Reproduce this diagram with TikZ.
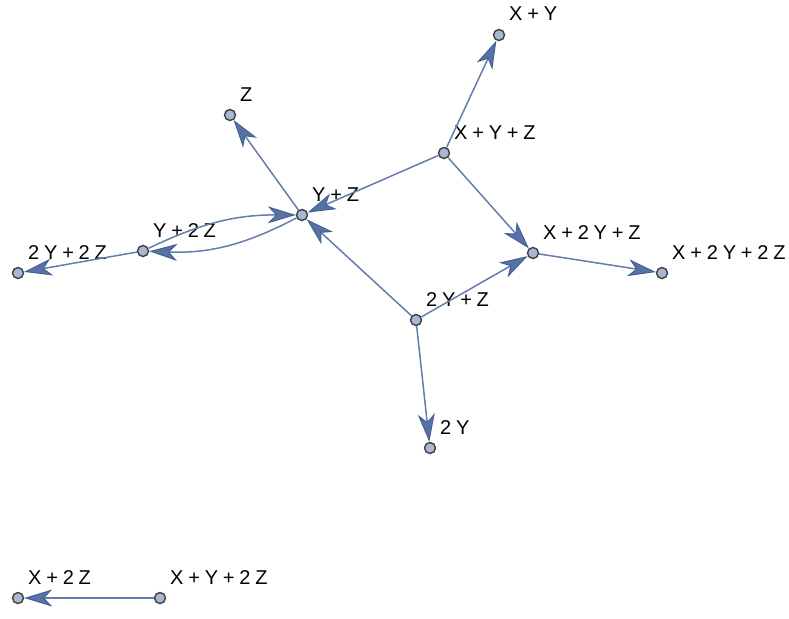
\documentclass[tikz,border=0pt]{standalone}
\usepackage{fontspec}
\setmainfont{Liberation Sans}
\usetikzlibrary{arrows.meta}
\definecolor{edgeblue}{RGB}{100,125,172}
\definecolor{tipblue}{RGB}{88,114,166}
\definecolor{tipline}{RGB}{70,96,148}
\definecolor{vertfill}{RGB}{168,184,212}
\definecolor{vertline}{RGB}{62,62,62}
\tikzset{
	vert/.style={circle,draw=vertline,fill=vertfill,line width=1.4pt,minimum size=11pt,inner sep=0pt},
	lbl/.style={anchor=base west,inner sep=0pt,font=\fontsize{20}{24}\selectfont,
		execute at begin node={\spaceskip=.24em\relax}},
	edge/.style={draw=edgeblue,line width=1.5pt,-{Stealth[length=28pt,width=17pt,inset=8pt,color=tipline,fill=tipblue,line width=1pt]}}
}
\begin{document}
\begin{tikzpicture}[x=1pt,y=1pt]
	\useasboundingbox (0,0) rectangle (789,-618);
	\foreach \n/\x/\y/\t in {xyz/444/153/X + Y + Z, xy/499/35/X + Y, z/230/115/Z, yz/302/215/Y + Z,
		ytz/143/251/Y + 2 Z, tytz/18/273/2 Y + 2 Z, xtyz/533/253/X + 2 Y + Z, xtytz/662/273/X + 2 Y + 2 Z,
		tyz/416/320/2 Y + Z, ty/430/448/2 Y, xtz/18/598/X + 2 Z, xytz/160/598/X + Y + 2 Z}{
		\node[vert] (\n) at (\x,-\y) {};
		\node[lbl] (\n-l) at ([shift={(10,14)}]\n.center) {\t};
	}
	\foreach \a/\b in {xyz/xy, xyz/yz, xyz/xtyz, yz/z, ytz/tytz, tyz/yz, tyz/xtyz, tyz/ty, xtyz/xtytz, xytz/xtz}
		\draw[edge] (\a) -- (\b);
	\draw[edge] (ytz) to[bend left=13] (yz);
	\draw[edge] (yz) to[bend left=15] (ytz);
\end{tikzpicture}
\end{document}
